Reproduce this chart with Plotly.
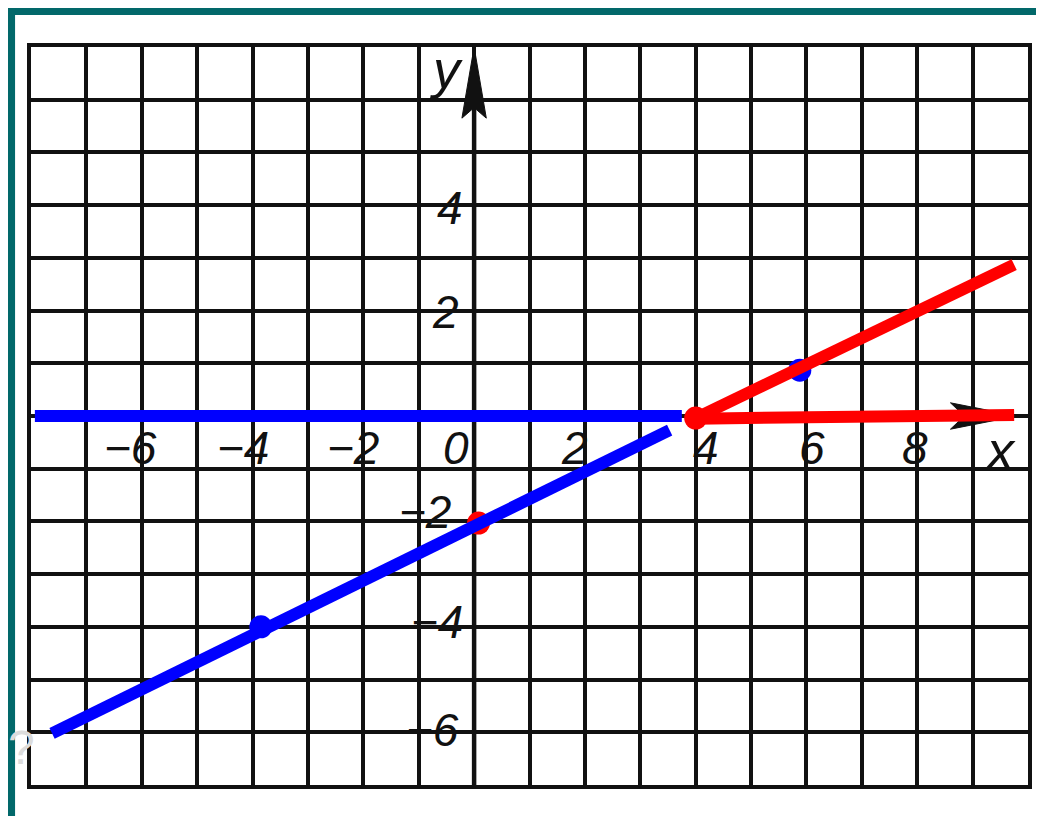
import plotly.graph_objects as go


# DATA ###########################################################################################

x_tick_vals = [-6, -4, -2, 0, 2, 4, 6, 8]
x_tick_text = ['−6', '−4', '−2', '0', '2', '4', '6', '8']
y_tick_vals = [4, 2, -2, -4, -6]
y_tick_text = ['4', '2', '−2', '−4', '−6']

# blue graph
blue_flat_x = [-7.93, 3.75]
blue_flat_y = [0, 0]
blue_slope_x = [-7.62, 3.53]
blue_slope_y = [-6.02, -0.27]
blue_dots_x = [-3.85, 5.88]
blue_dots_y = [-4.0, 0.87]

# red graph
red_slope_x = [4.0, 9.75]
red_slope_y = [-0.04, 2.87]
red_flat_x = [4.0, 9.75]
red_flat_y = [-0.05, 0.02]
red_dots_x = [0.08, 4.0]
red_dots_y = [-2.03, -0.04]

x_range = [-8, 10]
y_range = [-7, 7]


# STYLE ##########################################################################################

BLUE = '#0000ff'
RED = '#ff0000'
INK = '#111111'
TEAL = '#02686a'
FONT = 'Liberation Sans'

# the page has an 8px body margin, so the figure is sized and shifted to make up for it
W, H = 1036, 808
L, R, T, B = 23, 12, 39, 31
PW, PH = W - L - R, H - T - B

x_label_shift = [-11, -10, -10, -18, -10, 10, 6, -2]
y_label_xshift = [-9, -13, -21, -9, -13]
y_label_yshift = [-3, -1, 9, 5, 2]


def line(x, y, color):
    return go.Scatter(x=x, y=y, mode='lines', line=dict(color=color, width=12),
                      hoverinfo='skip', showlegend=False)


def dot(x, y, color):
    return go.Scatter(x=x, y=y, mode='markers', marker=dict(color=color, size=23),
                      hoverinfo='skip', showlegend=False)


fig = go.Figure()

# drawing order matters: some dots sit under the lines
fig.add_trace(dot([red_dots_x[0]], [red_dots_y[0]], RED))
fig.add_trace(dot([blue_dots_x[1]], [blue_dots_y[1]], BLUE))
fig.add_trace(line(blue_flat_x, blue_flat_y, BLUE))
fig.add_trace(line(blue_slope_x, blue_slope_y, BLUE))
fig.add_trace(dot([blue_dots_x[0]], [blue_dots_y[0]], BLUE))
fig.add_trace(line(red_slope_x, red_slope_y, RED))
fig.add_trace(line(red_flat_x, red_flat_y, RED))
fig.add_trace(dot([red_dots_x[1]], [red_dots_y[1]], RED))

# axes with arrows
fig.add_shape(type='line', x0=x_range[0], x1=x_range[1], y0=0, y1=0,
              line=dict(color=INK, width=4), layer='below')
fig.add_shape(type='line', x0=0, x1=0, y0=y_range[0], y1=6.0,
              line=dict(color=INK, width=4.5), layer='below')
fig.add_shape(type='path', path='M 0,7.0 L -0.22,5.65 L 0,5.85 L 0.22,5.65 Z',
              fillcolor=INK, line=dict(color=INK, width=1), layer='below')
fig.add_shape(type='path', path='M 9.8,0 L 8.6,0.25 L 8.85,0 L 8.6,-0.25 Z',
              fillcolor=INK, line=dict(color=INK, width=1), layer='below')

# teal frame of the picture (top and left only)
fig.add_shape(type='rect', xref='paper', yref='paper', x0=-0.05, x1=1.05,
              y0=(PH + T - 7) / PH, y1=1.1, fillcolor=TEAL, line_width=0)
fig.add_shape(type='rect', xref='paper', yref='paper', x0=-0.05, x1=(7 - L) / PW,
              y0=-0.1, y1=1.1, fillcolor=TEAL, line_width=0)

for v, t, s in zip(x_tick_vals, x_tick_text, x_label_shift):
    fig.add_annotation(x=v, y=0, text=t, showarrow=False, xanchor='center', yanchor='middle',
                       xshift=s, yshift=-32,
                       font=dict(family=FONT, size=46, color=INK, style='italic'))

for v, t, sx, sy in zip(y_tick_vals, y_tick_text, y_label_xshift, y_label_yshift):
    fig.add_annotation(x=0, y=v, text=t, showarrow=False, xanchor='right', yanchor='middle',
                       xshift=sx, yshift=sy,
                       font=dict(family=FONT, size=46, color=INK, style='italic'))

fig.add_annotation(x=9.5, y=0, text='x', showarrow=False, xanchor='center', yanchor='middle',
                   yshift=-34, font=dict(family=FONT, size=54, color=INK, style='italic'))
fig.add_annotation(x=-0.5, y=6.5, text='y', showarrow=False, xanchor='center', yanchor='middle',
                   yshift=4, font=dict(family=FONT, size=54, color=INK, style='italic'))

fig.add_annotation(xref='paper', yref='paper', x=(13 - L) / PW, y=(H - B - 739) / PH,
                   text='?', showarrow=False, xanchor='center', yanchor='middle',
                   font=dict(family=FONT, size=48, color='#dcdcdc'))

axis_style = dict(dtick=1, showgrid=True, gridcolor=INK, gridwidth=3.5, zeroline=False,
                  showline=True, linecolor=INK, linewidth=4, mirror=True,
                  showticklabels=False, ticks='', fixedrange=True)

fig.update_xaxes(range=x_range, tick0=0, **axis_style)
fig.update_yaxes(range=y_range, tick0=0, **axis_style)

fig.update_layout(autosize=False,
                  width=W,
                  height=H,
                  margin=dict(l=L, r=R, t=T, b=B),
                  paper_bgcolor='white',
                  plot_bgcolor='white',
                  showlegend=False)

fig.write_html('out.html')
